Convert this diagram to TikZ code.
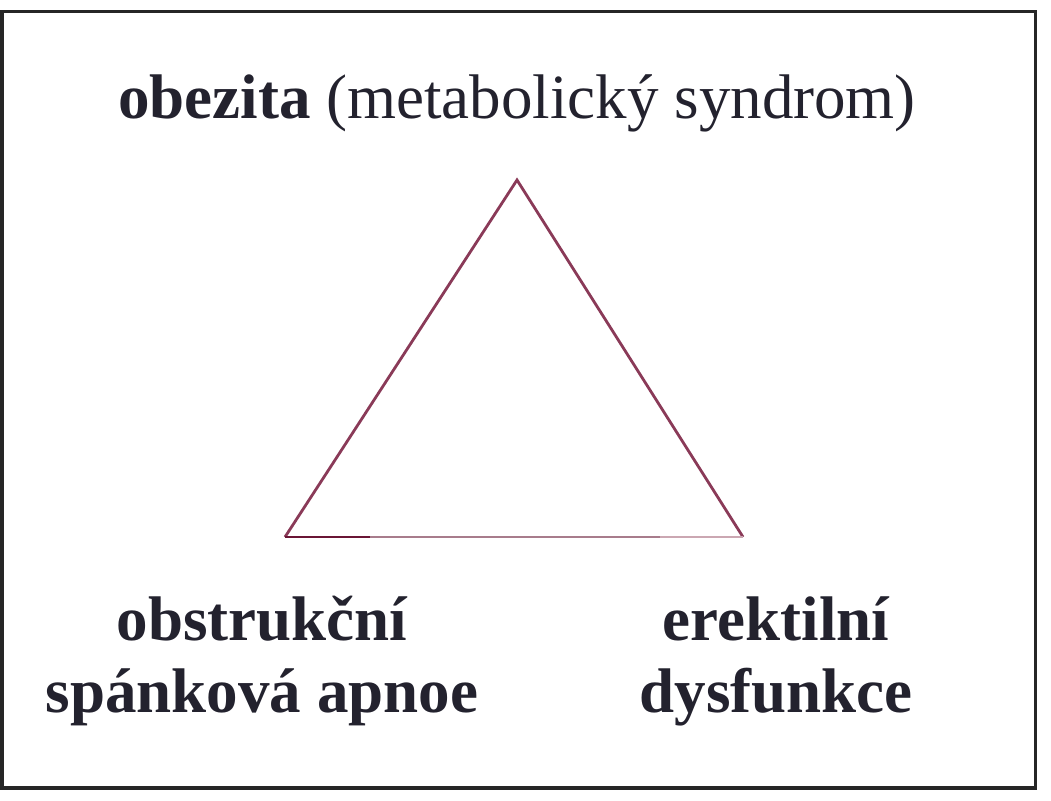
\documentclass[tikz,border=0pt]{standalone}
\usepackage{fontspec}
\setmainfont{Liberation Serif}
\definecolor{txt}{HTML}{23222E}
\definecolor{tri}{HTML}{8A3A58}
\definecolor{triA}{HTML}{6A1535}
\definecolor{triB}{HTML}{A87C8C}
\definecolor{triC}{HTML}{CBA7B2}
\definecolor{frame}{HTML}{262626}
\tikzset{
  lbl/.style={font=\fontsize{63}{70}\selectfont\bfseries, text=txt, align=center, inner sep=0pt},
  side/.style={draw=tri, line width=2.8pt},
}
\begin{document}
\begin{tikzpicture}[x=1pt,y=-1pt]
\useasboundingbox (0,0) rectangle (1051,800);
\draw[frame, line width=3.5pt] (2,11.5) rectangle (1035.5,788);
\coordinate (A) at (517,180);
\coordinate (B) at (285,537);
\coordinate (C) at (743,537);
\coordinate (B1) at (370,537);
\coordinate (C1) at (660,537);
\draw[side] (B) -- (A) -- (C);
\draw[draw=triA, line width=2.8pt] (B) -- (B1);
\draw[draw=triB, line width=2.8pt] (B1) -- (C1);
\draw[draw=triC, line width=2.8pt] (C1) -- (C);
\node[lbl, anchor=base] (top) at (517,118) {obezita \mdseries(metabolický syndrom)};
\node[lbl, anchor=base] (osa1) at (262,640) {obstrukční};
\node[lbl, anchor=base] (osa2) at (262,712) {spánková apnoe};
\node[lbl, anchor=base] (ed1) at (776,640) {erektilní};
\node[lbl, anchor=base] (ed2) at (776,712) {dysfunkce};
\end{tikzpicture}
\end{document}
